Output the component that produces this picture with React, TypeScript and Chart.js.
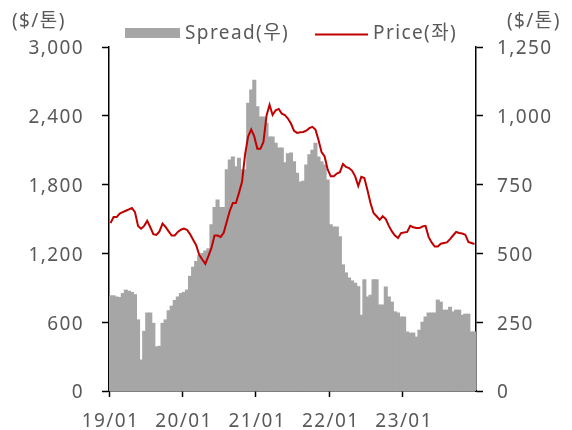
import React, { useEffect, useRef } from "react";
import { Chart, registerables } from "chart.js";

Chart.register(...registerables);

const YEARS = ["19", "20", "21", "22", "23"];
const MONTHS = ["01", "02", "03", "04", "05", "06", "07", "08", "09", "10", "11", "12"];
const HALVES = ["01", "16"];
const CATEGORIES = YEARS.flatMap((y) => MONTHS.flatMap((m) => HALVES.map((d) => `${y}/${m}/${d}`)));

// Spread ($/톤), left axis
const SPREAD = [
  830, 830, 820, 815, 850, 880, 870, 860, 840, 620, 270, 520, 680, 680, 590, 385, 390, 590, 620, 700, 740, 790, 820, 850,
  860, 880, 1000, 1080, 1130, 1180, 1200, 1220, 1240, 1450, 1600, 1665, 1600, 1600, 1930, 2015, 2040, 1955, 2030, 1930, 1930, 2510, 2625, 2710,
  2480, 2390, 2390, 2335, 2215, 2215, 2160, 2120, 2120, 1990, 2070, 2075, 2000, 1900, 1823, 1830, 1970, 2060, 2100, 2160, 2040, 2000, 1970, 1840,
  1450, 1430, 1430, 1345, 1100, 1030, 985, 960, 940, 910, 660, 970, 820, 835, 970, 970, 750, 750, 907, 820, 775, 690, 680, 645,
  645, 515, 505, 505, 470, 530, 600, 645, 680, 680, 680, 793, 775, 705, 705, 730, 690, 705, 705, 660, 670, 670, 515, 515,
];

// Price ($/톤), right axis
const PRICE = [
  610, 632, 632, 645, 650, 655, 660, 665, 650, 600, 590, 600, 618, 595, 570, 567, 580, 608, 596, 580, 565, 565, 578, 586,
  590, 586, 570, 550, 530, 495, 478, 462, 490, 520, 565, 565, 560, 575, 615, 655, 683, 683, 720, 760, 860, 925, 950, 925,
  880, 880, 905, 1000, 1040, 1003, 1020, 1025, 1008, 1003, 990, 972, 945, 938, 940, 941, 946, 955, 960, 950, 912, 868, 852, 805,
  780, 780, 790, 795, 825, 814, 810, 800, 780, 745, 778, 774, 730, 683, 647, 635, 622, 635, 625, 600, 580, 565, 556, 574,
  576, 578, 600, 595, 592, 592, 598, 600, 560, 540, 525, 525, 535, 538, 540, 552, 565, 578, 574, 572, 568, 542, 538, 534,
];

const LEFT_TICKS = { min: 0, max: 3000, step: 600 };
const RIGHT_TICKS = { min: 0, max: 1250, step: 250 };
const UNIT = "($/톤)";
const SPREAD_LABEL = "Spread(우)";
const PRICE_LABEL = "Price(좌)";

const FONT_FAMILY = '"Noto Sans", "Noto Sans CJK KR", sans-serif';
const FONT_SIZE = 19;
const TEXT_COLOR = "#595959";
const BAR_COLOR = "#a6a6a6";
const LINE_COLOR = "#c00000";
const LS = "1.4px";

const decor = {
  id: "decor",
  beforeUpdate(chart: any) {
    chart.ctx.letterSpacing = LS;
  },
  beforeDraw(chart: any) {
    chart.ctx.letterSpacing = LS;
  },
  afterDraw(chart: any) {
    const ctx = chart.ctx;
    ctx.save();
    ctx.letterSpacing = LS;
    ctx.font = `${FONT_SIZE}px ${FONT_FAMILY}`;
    ctx.fillStyle = TEXT_COLOR;
    ctx.textBaseline = "middle";
    ctx.textAlign = "left";
    ctx.fillText(UNIT, 12, 22);
    ctx.fillText(UNIT, 507, 22);
    // legend
    ctx.fillStyle = BAR_COLOR;
    ctx.fillRect(125, 28, 55, 10);
    ctx.fillStyle = TEXT_COLOR;
    ctx.fillText(SPREAD_LABEL, 185, 34);
    ctx.strokeStyle = LINE_COLOR;
    ctx.lineWidth = 2;
    ctx.beginPath();
    ctx.moveTo(315, 34.5);
    ctx.lineTo(368, 34.5);
    ctx.stroke();
    ctx.fillText(PRICE_LABEL, 373, 34);
    ctx.restore();
  },
};

export default function App() {
  const ref = useRef<HTMLCanvasElement | null>(null);
  useEffect(() => {
    const canvas = ref.current;
    if (!canvas) return;
    const font = { family: FONT_FAMILY, size: FONT_SIZE };
    const chart = new Chart(canvas, {
      type: "bar",
      data: {
        labels: CATEGORIES,
        datasets: [
          {
            type: "line",
            label: PRICE_LABEL,
            data: PRICE,
            yAxisID: "y1",
            borderColor: LINE_COLOR,
            backgroundColor: LINE_COLOR,
            borderWidth: 2,
            pointRadius: 0,
            tension: 0,
            order: 0,
          } as any,
          {
            type: "bar",
            label: SPREAD_LABEL,
            data: SPREAD,
            yAxisID: "y",
            backgroundColor: BAR_COLOR,
            borderWidth: 0,
            barPercentage: 1,
            categoryPercentage: 1,
            inflateAmount: 0.5,
            order: 1,
          } as any,
        ],
      },
      options: {
        responsive: false,
        animation: false,
        layout: { padding: { top: 47, left: 0, right: 0, bottom: 0 } },
        plugins: { legend: { display: false }, tooltip: { enabled: false } },
        scales: {
          x: {
            type: "category",
            offset: true,
            grid: {
              offset: true,
              drawOnChartArea: false,
              drawTicks: true,
              tickLength: 6,
              tickWidth: 1.5,
              tickColor: (c: any) => (c.index % 24 === 0 && c.index < CATEGORIES.length ? "#000" : "rgba(0,0,0,0)"),
            },
            border: { display: true, color: "#000", width: 1.5 },
            ticks: {
              autoSkip: false,
              maxRotation: 0,
              minRotation: 0,
              padding: 13,
              color: TEXT_COLOR,
              font,
              callback: (v: any, i: number) => {
                const l = CATEGORIES[i];
                return l && l.endsWith("/01/01") ? l.slice(0, 5) : "";
              },
            },
            afterFit: (s: any) => {
              s.height = 39;
            },
          },
          y: {
            position: "left",
            min: LEFT_TICKS.min,
            max: LEFT_TICKS.max,
            grid: { drawOnChartArea: false, tickLength: 7, tickWidth: 1.5, tickColor: "#000" },
            border: { display: true, color: "#000", width: 1.5 },
            ticks: {
              stepSize: LEFT_TICKS.step,
              padding: 18,
              labelOffset: 2,
              color: TEXT_COLOR,
              font,
              callback: (v: any) => Number(v).toLocaleString("en-US"),
            },
            afterFit: (s: any) => {
              s.width = 109;
            },
          },
          y1: {
            position: "right",
            min: RIGHT_TICKS.min,
            max: RIGHT_TICKS.max,
            grid: { drawOnChartArea: false, tickLength: 7, tickWidth: 1.5, tickColor: "#000" },
            border: { display: true, color: "#000", width: 1.5 },
            ticks: {
              stepSize: RIGHT_TICKS.step,
              padding: 14,
              labelOffset: 2,
              color: TEXT_COLOR,
              font,
              callback: (v: any) => Number(v).toLocaleString("en-US"),
            },
            afterFit: (s: any) => {
              s.width = 96;
            },
          },
        },
      },
      plugins: [decor],
    });
    return () => chart.destroy();
  }, []);
  return (
    <div style={{ position: "fixed", left: 0, top: 0, width: 572, height: 430, background: "#fff" }}>
      <canvas ref={ref} width={572} height={430} style={{ width: 572, height: 430, display: "block" }} />
    </div>
  );
}
